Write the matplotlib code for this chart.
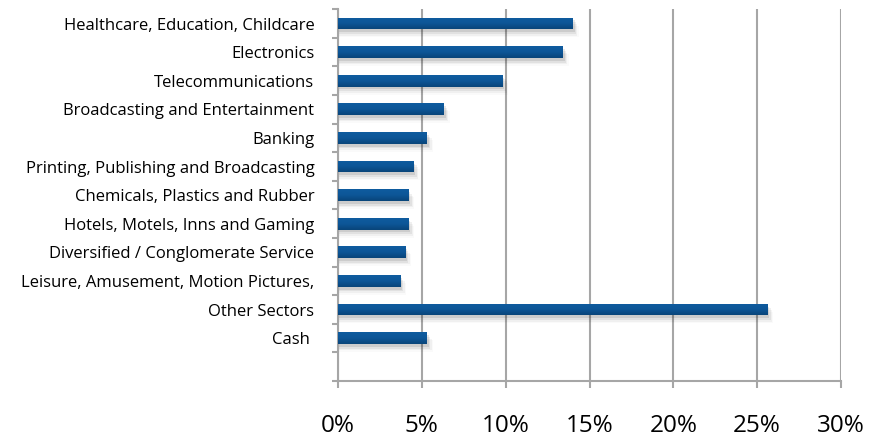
import matplotlib
matplotlib.use("Agg")
import matplotlib.pyplot as plt
import numpy as np
from matplotlib.colors import LinearSegmentedColormap
from matplotlib.ticker import FixedLocator, PercentFormatter

sectors = [
    "Healthcare, Education, Childcare",
    "Electronics",
    "Telecommunications",
    "Broadcasting and Entertainment",
    "Banking",
    "Printing, Publishing and Broadcasting",
    "Chemicals, Plastics and Rubber",
    "Hotels, Motels, Inns and Gaming",
    "Diversified / Conglomerate Service",
    "Leisure, Amusement, Motion Pictures,",
    "Other Sectors",
    "Cash ",
    "",
]
weights = [14.0, 13.4, 9.8, 6.3, 5.3, 4.5, 4.2, 4.2, 4.0, 3.7, 25.6, 5.3, 0.0]
x_ticks = [0, 5, 10, 15, 20, 25, 30]

plt.rcParams['font.family'] = ['Open Sans', 'DejaVu Sans']

fig = plt.figure(figsize=(8.81, 4.38), dpi=100)
ax = fig.add_axes([0.3837, 0.130, 0.5709, 0.849])

pos = np.arange(len(sectors))
bar_h = 0.41
grid_col = "#a6a6a6"

# soft drop shadow under each bar
for dx, dy, a in [(0.12, 0.10, 0.09), (0.20, 0.16, 0.06), (0.28, 0.22, 0.04), (0.36, 0.28, 0.02)]:
    ax.barh(pos + dy, [w + dx if w > 0 else 0 for w in weights], height=bar_h,
            color="#000000", alpha=a, linewidth=0, zorder=2)

bars = ax.barh(pos, weights, height=bar_h, color="#0c5396", linewidth=0, zorder=3)

# vertical gradient fill, lighter at the top
cmap = LinearSegmentedColormap.from_list("bar", ["#0f5c9f", "#0d5697", "#094579"])
grad = np.linspace(0, 1, 64).reshape(-1, 1)
for b in bars:
    if b.get_width() <= 0:
        continue
    x0, y0 = b.get_x(), b.get_y()
    im = ax.imshow(grad, cmap=cmap, aspect="auto", zorder=4,
                   extent=[x0, x0 + b.get_width(), y0 + b.get_height(), y0],
                   interpolation="bilinear")
    im.set_clip_path(b)

ax.set_xlim(0, 30)
ax.set_ylim(len(sectors) - 0.5, -0.5)

ax.set_yticks(pos)
ax.set_yticklabels(sectors, fontsize=12)
ax.yaxis.set_minor_locator(FixedLocator(np.arange(-0.5, len(sectors), 1.0)))
ax.tick_params(axis="y", which="major", length=0, pad=17)
ax.tick_params(axis="y", which="minor", length=4, width=1.5, color=grid_col)

ax.set_xticks(x_ticks)
ax.xaxis.set_major_formatter(PercentFormatter(decimals=0))
ax.tick_params(axis="x", length=5, width=1.5, color=grid_col, labelsize=17.5, pad=19)

ax.grid(axis="x", color=grid_col, linewidth=1.5, zorder=0)
ax.set_axisbelow(True)

for side in ["top", "right"]:
    ax.spines[side].set_visible(False)
for side in ["left", "bottom"]:
    ax.spines[side].set_color(grid_col)
    ax.spines[side].set_linewidth(1.5)

fig.savefig("out.png", dpi=100)
